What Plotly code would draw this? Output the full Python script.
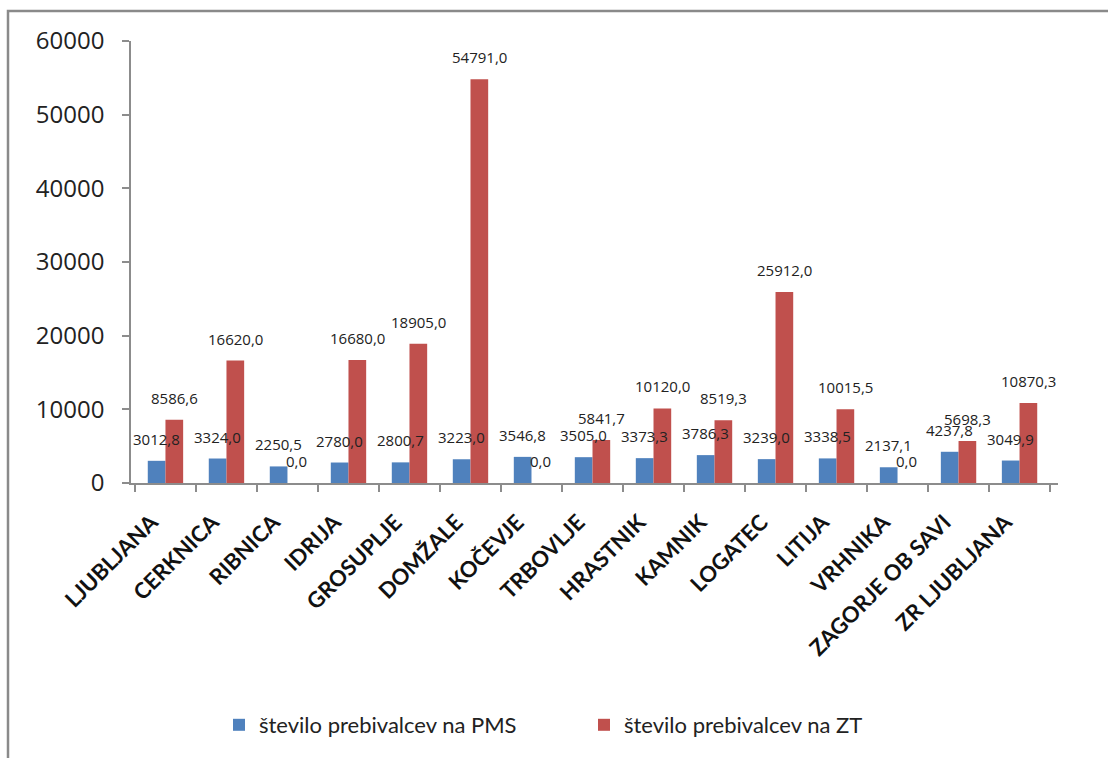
import plotly.graph_objects as go

# Občine / območja
categories = ["LJUBLJANA", "CERKNICA", "RIBNICA", "IDRIJA", "GROSUPLJE", "DOMŽALE",
              "KOČEVJE", "TRBOVLJE", "HRASTNIK", "KAMNIK", "LOGATEC", "LITIJA",
              "VRHNIKA", "ZAGORJE OB SAVI", "ZR LJUBLJANA"]
pms_values = [3012.8, 3324.0, 2250.5, 2780.0, 2800.7, 3223.0, 3546.8, 3505.0,
              3373.3, 3786.3, 3239.0, 3338.5, 2137.1, 4237.8, 3049.9]
zt_values = [8586.6, 16620.0, 0.0, 16680.0, 18905.0, 54791.0, 0.0, 5841.7,
             10120.0, 8519.3, 25912.0, 10015.5, 0.0, 5698.3, 10870.3]
series_names = ["število prebivalcev na PMS", "število prebivalcev na ZT"]
y_ticks = [0, 10000, 20000, 30000, 40000, 50000, 60000]
y_tick_labels = [str(v) for v in y_ticks]

BLUE = "#4F81BD"
RED = "#C0504D"
AXIS = "#8c8c8c"

W, H = 1108, 758
L, R, T, B = 131, 50, 41, 275
BARGAP = 0.42

fig = go.Figure()
fig.add_trace(go.Bar(x=categories, y=pms_values, name=series_names[0],
                     marker=dict(color=BLUE, line=dict(width=0))))
fig.add_trace(go.Bar(x=categories, y=zt_values, name=series_names[1],
                     marker=dict(color=RED, line=dict(width=0))))


def fmt(v):
    return f"{v:.1f}".replace(".", ",")


# value labels above each bar, shifted to sit over its own bar
cat_px = (W - L - R) / len(categories)
half_bar = cat_px * (1 - BARGAP) / 4
annotations = []
for vals, shift in ((pms_values, -half_bar), (zt_values, half_bar)):
    for c, v in zip(categories, vals):
        annotations.append(dict(x=c, y=v, xref="x", yref="y", text=fmt(v),
                                showarrow=False, xshift=shift, yshift=22,
                                yanchor="middle",
                                font=dict(family="Open Sans", size=15, color="#222")))

# outer frame
px2x = lambda px: (px - L) / (W - L - R)
px2y = lambda py: (H - B - py) / (H - T - B)
shapes = [dict(type="rect", xref="paper", yref="paper",
               x0=px2x(8), x1=px2x(W + 20), y0=px2y(H + 20), y1=px2y(11),
               line=dict(color="#8a8a8a", width=2.5), fillcolor="rgba(0,0,0,0)",
               layer="below")]

fig.update_layout(
    width=W, height=H,
    margin=dict(l=L, r=R, t=T, b=B),
    paper_bgcolor="white", plot_bgcolor="white",
    barmode="group", bargap=BARGAP, bargroupgap=0,
    showlegend=True,
    legend=dict(orientation="h", x=px2x(219), xanchor="left",
                y=px2y(725), yanchor="middle",
                font=dict(family="Lato", size=22, color="#222"),
                entrywidth=320, entrywidthmode="pixels",
                bgcolor="rgba(0,0,0,0)"),
    xaxis=dict(type="category", showline=True, linecolor=AXIS, linewidth=1.5,
               ticks="outside", ticklen=7, tickcolor=AXIS, tickwidth=1.5,
               tickson="boundaries", tickangle=-45, showgrid=False,
               ticklabelstandoff=16, ticklabelshift=-14,
               tickfont=dict(family="Lato", size=22, color="#111", weight="bold")),
    yaxis=dict(range=[0, 60000], tickvals=y_ticks, ticktext=y_tick_labels,
               showline=True, linecolor=AXIS,
               linewidth=1.5, ticks="outside", ticklen=7, tickcolor=AXIS,
               tickwidth=1.5, showgrid=False, zeroline=False,
               tickfont=dict(family="Open Sans", size=24, color="#222"),
               ticklabelstandoff=13),
    annotations=annotations,
    shapes=shapes,
)

fig.write_html("out.html")
